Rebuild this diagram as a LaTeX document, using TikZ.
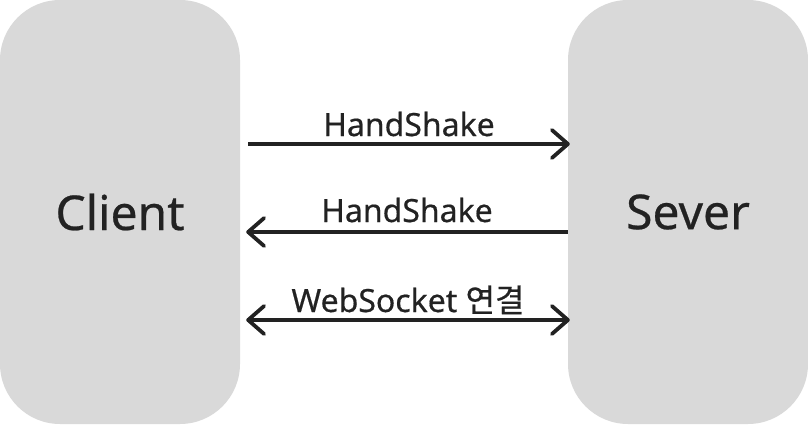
\documentclass[tikz,border=0pt]{standalone}
\usepackage{fontspec}
\setmainfont[FakeBold=0.5]{Noto Sans}
\newfontfamily\kr[FakeBold=0.5]{Noto Sans CJK KR}
\usetikzlibrary{arrows.meta, positioning}
\definecolor{boxgray}{HTML}{D9D9D9}
\definecolor{ink}{HTML}{222222}

\begin{document}
\begin{tikzpicture}[x=1pt, y=1pt,
			>={Straight Barb[length=16pt, width=28pt, line cap=round, line join=round]},
			party/.style={rectangle, rounded corners=60pt, fill=boxgray, minimum width=240pt,
				minimum height=424pt, inner sep=0pt, text=ink, font=\fontsize{48}{48}\selectfont},
			msg/.style={line width=3.8pt, draw=ink},
			lbl/.style={anchor=base, text=ink, font=\fontsize{32}{32}\selectfont}]
			
			\useasboundingbox (0,0) rectangle (808,424);
			
			% I due lati della connessione
			\node[party] (client) at (120,212) {Client};
			\node[party] (sever) at (688,212) {Sever};
			
			% --- Messaggi ---
			% Client -> Sever
			\draw[msg, ->] ([xshift=8pt, yshift=68pt]client.east) -- ([xshift=2pt, yshift=68pt]sever.west)
				node[lbl, midway, yshift=8pt]{HandShake};
			
			% Sever -> Client
			\draw[msg, ->] ([yshift=-20pt]sever.west) -- ([xshift=6pt, yshift=-20pt]client.east)
				node[lbl, midway, yshift=10pt]{HandShake};
			
			% Connessione
			\draw[msg, <->] ([xshift=6pt, yshift=-108pt]client.east) -- ([xshift=2pt, yshift=-108pt]sever.west)
				node[lbl, midway, yshift=8pt]{WebSocket {\kr 연결}};
			
		\end{tikzpicture}
\end{document}
